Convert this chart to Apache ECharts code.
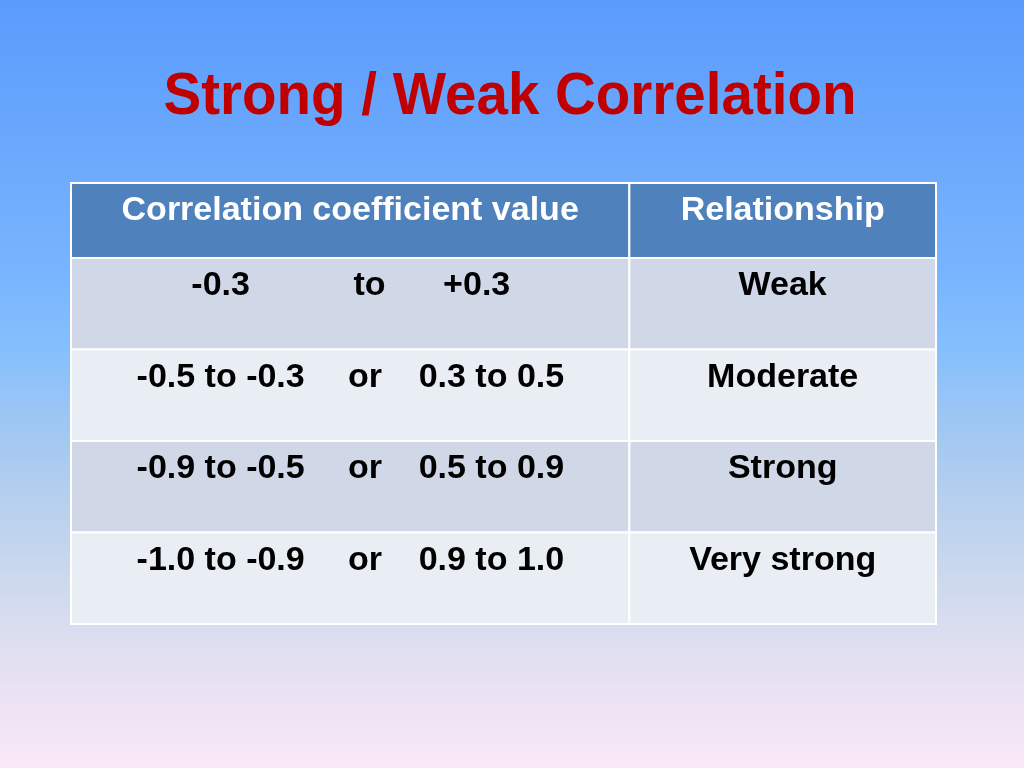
<!DOCTYPE html>
<html>
<head>
<meta charset="utf-8">
<script src="https://cdn.jsdelivr.net/npm/echarts@6/dist/echarts.min.js"></script>
<style>
  html, body { margin: 0; padding: 0; }
  #chart { width: 1024px; height: 768px; }
</style>
</head>
<body>
<div id="chart"></div>
<script>
// ---- data ----
const titleText = 'Strong / Weak Correlation';
const headers = ['Correlation coefficient value', 'Relationship'];
const lowRanges = ['-0.3', '-0.5 to -0.3', '-0.9 to -0.5', '-1.0 to -0.9'];
const connectors = ['to', 'or', 'or', 'or'];
const highRanges = ['+0.3', '0.3 to 0.5', '0.5 to 0.9', '0.9 to 1.0'];
const relationships = ['Weak', 'Moderate', 'Strong', 'Very strong'];

// ---- layout / style ----
const FONT = '"Liberation Sans", Arial, Helvetica, sans-serif';
const colSplit = 0.6455;           // fraction of table width for column 1
const rowFills = ['#D0D8E8', '#E9EDF4', '#D0D8E8', '#E9EDF4'];
const headerFill = '#4F81BD';
const textOffset = 28;             // text centre below the row top

const chart = echarts.init(document.getElementById('chart'), null, { renderer: 'canvas' });

function cellRects(api, r, fill) {
  const c = api.coord([0, r]);
  const sz = api.size([1, 1]);
  const top = c[1] - sz[1] / 2;
  const x0 = api.coord([0, r])[0];
  const x1 = api.coord([colSplit, r])[0];
  const x2 = api.coord([1, r])[0];
  const style = { fill: fill, stroke: '#FFFFFF', lineWidth: 2 };
  return {
    top: top,
    shapes: [
      { type: 'rect', shape: { x: x0, y: top, width: x1 - x0, height: sz[1] }, style: style },
      { type: 'rect', shape: { x: x1, y: top, width: x2 - x1, height: sz[1] }, style: style }
    ]
  };
}

function txt(api, xFrac, r, y, text, color) {
  return {
    type: 'text',
    x: api.coord([xFrac, r])[0],
    y: y,
    style: {
      text: text,
      fill: color,
      font: 'bold 34px ' + FONT,
      textAlign: 'center',
      textVerticalAlign: 'middle'
    }
  };
}

const option = {
  backgroundColor: {
    type: 'linear', x: 0, y: 0, x2: 0, y2: 1,
    colorStops: [
      { offset: 0, color: '#5B9BFC' },
      { offset: 0.35, color: '#78B4FE' },
      { offset: 0.45, color: '#84BFFD' },
      { offset: 0.58, color: '#A6C9F1' },
      { offset: 0.72, color: '#C5D6EC' },
      { offset: 0.86, color: '#E2E0F1' },
      { offset: 1, color: '#FBE8F8' }
    ]
  },
  animation: false,
  graphic: [{
    type: 'text',
    x: 510, y: 98,
    scaleX: 0.966,
    style: {
      text: titleText,
      fill: '#C00000',
      font: 'bold 58.5px ' + FONT,
      textAlign: 'center',
      textVerticalAlign: 'middle'
    }
  }],
  grid: [
    { left: 71, top: 183, width: 865, height: 75 },
    { left: 71, top: 258, width: 865, height: 366 }
  ],
  xAxis: [
    { type: 'value', min: 0, max: 1, show: false, gridIndex: 0 },
    { type: 'value', min: 0, max: 1, show: false, gridIndex: 1 }
  ],
  yAxis: [
    { type: 'category', data: ['header'], inverse: true, show: false, gridIndex: 0 },
    { type: 'category', data: relationships, inverse: true, show: false, gridIndex: 1 }
  ],
  series: [
    {
      type: 'custom',
      xAxisIndex: 0, yAxisIndex: 0,
      data: [[0, 0]],
      renderItem: function (params, api) {
        const r = api.value(1);
        const cell = cellRects(api, r, headerFill);
        const y = cell.top + textOffset;
        return {
          type: 'group',
          children: cell.shapes.concat([
            txt(api, colSplit / 2, r, y, headers[0], '#FFFFFF'),
            txt(api, (colSplit + 1) / 2, r, y, headers[1], '#FFFFFF')
          ])
        };
      }
    },
    {
      type: 'custom',
      xAxisIndex: 1, yAxisIndex: 1,
      data: relationships.map(function (_, i) { return [0, i]; }),
      renderItem: function (params, api) {
        const r = api.value(1);
        const cell = cellRects(api, r, rowFills[r]);
        const y = cell.top + textOffset;
        const first = r === 0;
        return {
          type: 'group',
          children: cell.shapes.concat([
            txt(api, 0.173, r, y, lowRanges[r], '#000000'),
            txt(api, first ? 0.345 : 0.340, r, y, connectors[r], '#000000'),
            txt(api, first ? 0.469 : 0.486, r, y, highRanges[r], '#000000'),
            txt(api, (colSplit + 1) / 2, r, y, relationships[r], '#000000')
          ])
        };
      }
    }
  ]
};

chart.setOption(option);
</script>
</body>
</html>
